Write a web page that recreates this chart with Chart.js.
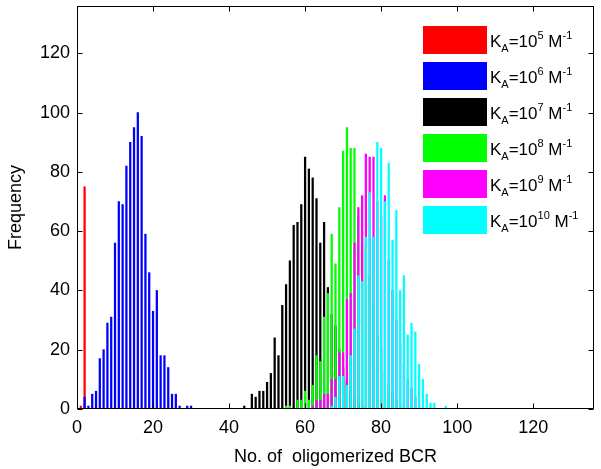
<!DOCTYPE html>
<html>
<head>
<meta charset="utf-8">
<script src="https://cdn.jsdelivr.net/npm/chart.js@4.4.0/dist/chart.umd.min.js"></script>
<style>
  html, body { margin:0; padding:0; background:#fff; }
</style>
</head>
<body>
<canvas id="histograma" width="601" height="469"></canvas>
<script>
// histogram counts per K_A value (first bin of each series + counts of consecutive integer bins)
let expoentes = ["5", "6", "7", "8", "9", "10"];
let cores = ["#ff0000", "#0000ff", "#000000", "#00ff00", "#ff00ff", "#00ffff"];
let inicio = [1, 2, 44, 55, 62, 66];
let contVermelho = [1, 75];
let contAzul = [4, 1, 5, 6, 17, 20, 29, 31, 56, 70, 69, 82, 90, 95, 100, 92, 59, 46, 33, 40, 18, 18, 14, 5, 5, 1, 0, 1, 1];
let contPreto = [1, 0, 5, 4, 6, 6, 9, 12, 24, 18, 35, 42, 50, 62, 63, 69, 85, 81, 78, 71, 56, 63, 41, 32, 28, 20, 14, 10, 6, 4, 2, 1];
let contVerde = [1, 1, 0, 3, 3, 6, 3, 8, 18, 16, 31, 39, 59, 49, 68, 87, 95, 88, 88, 65, 60, 55, 45, 35, 25, 20, 12, 8, 5, 3, 2];
let contMagenta = [1, 3, 3, 5, 5, 10, 10, 19, 19, 37, 39, 56, 68, 72, 86, 85, 85, 70, 65, 72, 50, 40, 30, 22, 15, 10, 7, 4, 2];
let contCiano = [0, 1, 4, 11, 11, 8, 18, 27, 45, 43, 58, 73, 58, 90, 88, 70, 83, 57, 67, 40, 45, 25, 29, 26, 15, 10, 5, 2, 2, 0, 0, 1];
let ticksX = [0, 20, 40, 60, 80, 100, 120];
let ticksY = [0, 20, 40, 60, 80, 100, 120];

let contagens = [contVermelho, contAzul, contPreto, contVerde, contMagenta, contCiano];

let datasets = contagens.map(function(cont, i){
  return {
    label: "K_A=10^" + expoentes[i] + " M^-1",
    data: cont.map(function(c, j){ return {x: inicio[i] + j, y: c}; }),
    backgroundColor: cores[i],
    borderWidth: 0,
    barThickness: 1.6,
    grouped: false,
    order: contagens.length - i   // later series drawn on top
  };
});

// frame with inward ticks + legend with sub/superscripts
let moldura = {
  id: "moldura",
  afterDraw(chart){
    let ctx = chart.ctx, a = chart.chartArea;
    let x = chart.scales.x, y = chart.scales.y;
    let l = Math.round(a.left) + 0.5, r = Math.round(a.right) - 0.5;
    let t = Math.round(a.top) + 0.5, b = Math.round(a.bottom) - 0.5;
    ctx.save();
    ctx.strokeStyle = "#000";
    ctx.lineWidth = 1;
    ctx.strokeRect(l, t, r - l, b - t);
    ctx.beginPath();
    ticksX.forEach(function(v){
      let px = Math.round(x.getPixelForValue(v)) + 0.5;
      ctx.moveTo(px, b); ctx.lineTo(px, b - 5);
      ctx.moveTo(px, t); ctx.lineTo(px, t + 5);
    });
    ticksY.forEach(function(v){
      let py = Math.round(y.getPixelForValue(v)) + 0.5;
      ctx.moveTo(l, py); ctx.lineTo(l + 5, py);
      ctx.moveTo(r, py); ctx.lineTo(r - 5, py);
    });
    ctx.stroke();

    // legend
    let fonte = "Liberation Sans, Arial, sans-serif";
    let esq = a.right - 171;
    expoentes.forEach(function(e, i){
      let topo = a.top + 20 + i * 36;
      ctx.fillStyle = cores[i];
      ctx.fillRect(esq, topo, 64, 28);
      ctx.fillStyle = "#000";
      ctx.textBaseline = "alphabetic";
      ctx.textAlign = "left";
      let base = topo + 21;
      let px = esq + 67;
      let partes = [["K", 17, 0], ["A", 11, 5], ["=10", 17, 0], [e, 11, -8], [" M", 17, 0], ["-1", 11, -8]];
      partes.forEach(function(p){
        ctx.font = p[1] + "px " + fonte;
        ctx.fillText(p[0], px, base + p[2]);
        px += ctx.measureText(p[0]).width;
      });
    });
    ctx.restore();
  }
};

let ctx = document.getElementById("histograma").getContext("2d");
let grafico = new Chart(ctx, {
  type: "bar",
  data: { datasets: datasets },
  options: {
    responsive: false,
    animation: false,
    layout: { padding: { top: 6, right: 7, left: 0, bottom: 0 } },
    plugins: { legend: { display: false }, tooltip: { enabled: false } },
    scales: {
      x: {
        type: "linear",
        offset: false,
        min: 0, max: 136,
        afterBuildTicks: function(s){ s.ticks = ticksX.map(function(v){ return {value: v}; }); },
        afterFit: function(s){ s.height = 60; s.paddingLeft = 0; s.paddingRight = 0; },
        grid: { display: false, drawTicks: false, offset: false },
        border: { display: false },
        ticks: { color: "#000", padding: 8, font: { family: "Liberation Sans", size: 18 }, maxRotation: 0 },
        title: { display: true, text: "No. of  oligomerized BCR", color: "#000",
                 font: { family: "Liberation Sans", size: 18 }, padding: { top: 0, bottom: 1 } }
      },
      y: {
        min: 0, max: 136,
        afterBuildTicks: function(s){ s.ticks = ticksY.map(function(v){ return {value: v}; }); },
        afterFit: function(s){ s.width = 77; s.paddingTop = 0; s.paddingBottom = 0; },
        grid: { display: false, drawTicks: false },
        border: { display: false },
        ticks: { color: "#000", padding: 7, font: { family: "Liberation Sans", size: 18 } },
        title: { display: true, text: "Frequency", color: "#000",
                 font: { family: "Liberation Sans", size: 18 }, padding: { top: 5, bottom: 0 } }
      }
    }
  },
  plugins: [moldura]
});
</script>
</body>
</html>
